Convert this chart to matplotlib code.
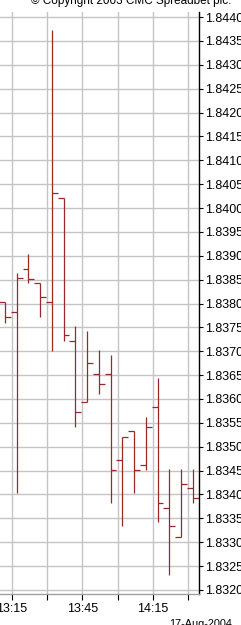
import matplotlib
matplotlib.use("Agg")
import matplotlib.pyplot as plt

# ---- data ----
times = ["13:12", "13:17", "13:22", "13:27", "13:32", "13:37", "13:42", "13:47", "13:52",
         "13:57", "14:02", "14:07", "14:12", "14:17", "14:22", "14:27", "14:32"]
opens = [1.83803, 1.83783, 1.83872, 1.83842, 1.83803, 1.84022, 1.83722, 1.83593, 1.83652,
         1.83652, 1.83472, 1.83533, 1.83462, 1.83583, 1.83371, 1.83312, 1.83413]
highs = [1.83803, 1.83863, 1.83903, 1.83842, 1.84373, 1.84022, 1.83753, 1.83743, 1.83703,
         1.83692, 1.83521, 1.83533, 1.83563, 1.83643, 1.83453, 1.83453, 1.83453]
lows = [1.83760, 1.83403, 1.83842, 1.83771, 1.83701, 1.83722, 1.83542, 1.83593, 1.83610,
        1.83382, 1.83333, 1.83403, 1.83451, 1.83343, 1.83231, 1.83312, 1.83382]
closes = [1.83771, 1.83853, 1.83852, 1.83814, 1.84032, 1.83734, 1.83572, 1.83675, 1.83631,
          1.83451, 1.83521, 1.83451, 1.83542, 1.83383, 1.83333, 1.83423, 1.83392]
x_tick_times = ["13:15", "13:30", "13:45", "14:00", "14:15", "14:30"]
x_tick_labels = ["13:15", "", "13:45", "", "14:15", ""]
y_ticks = [1.8320, 1.8325, 1.8330, 1.8335, 1.8340, 1.8345, 1.8350, 1.8355, 1.8360,
           1.8365, 1.8370, 1.8375, 1.8380, 1.8385, 1.8390, 1.8395, 1.8400, 1.8405,
           1.8410, 1.8415, 1.8420, 1.8425, 1.8430, 1.8435, 1.8440]
date_label = "17-Aug-2004"
copyright_label = "\u00a9 Copyright 2003 CMC Spreadbet plc."


def to_min(t):
    h, m = t.split(":")
    return (int(h) - 13) * 60 + int(m)


plt.rcParams['font.family'] = ['Liberation Sans', 'DejaVu Sans']

W, H = 241, 625
fig = plt.figure(figsize=(W / 100, H / 100), dpi=100)
fig.patch.set_facecolor('white')

top_px, bot_px, right_px = 12, 594, 199
ax = fig.add_axes([0, 1 - bot_px / H, right_px / W, (bot_px - top_px) / H])
ax.set_facecolor('white')

xs = [to_min(t) for t in times]
half = 2.5
col = '#9a2828'
ax.vlines(xs, lows, highs, color=col, lw=0.9, zorder=3)
ax.hlines(opens, [x - half for x in xs], xs, color=col, lw=0.9, zorder=3)
ax.hlines(closes, xs, [x + half for x in xs], color=col, lw=0.9, zorder=3)

ax.set_xlim(9.89, 94.68)
ax.set_ylim(1.831916, 1.844105)

ax.set_xticks([to_min(t) for t in x_tick_times])
ax.set_xticklabels(x_tick_labels)
ax.set_yticks(y_ticks)
ax.set_yticklabels(["%.4f" % v for v in y_ticks])
ax.yaxis.tick_right()
ax.grid(True, color='#c4c4c4', lw=1.0, zorder=0)

for s in ['top', 'left']:
    ax.spines[s].set_visible(False)
ax.spines['right'].set_color('black')
ax.spines['right'].set_linewidth(1.0)
ax.spines['bottom'].set_color('#a0a0a0')
ax.spines['bottom'].set_linewidth(1.0)

ax.tick_params(axis='y', which='both', length=3, width=0.8, pad=1.5,
               labelsize=9, colors='black', left=False, right=True)
ax.tick_params(axis='x', length=4.3, width=0.8, pad=2.5, labelsize=9, colors='black')

fig.text(232 / W, 1 - 627 / H, date_label, ha='right', va='baseline', fontsize=7.8)
fig.text(131.5 / W, 1 - 4 / H, copyright_label, ha='center', va='baseline', fontsize=8.5)

fig.savefig('out.png', dpi=100)
